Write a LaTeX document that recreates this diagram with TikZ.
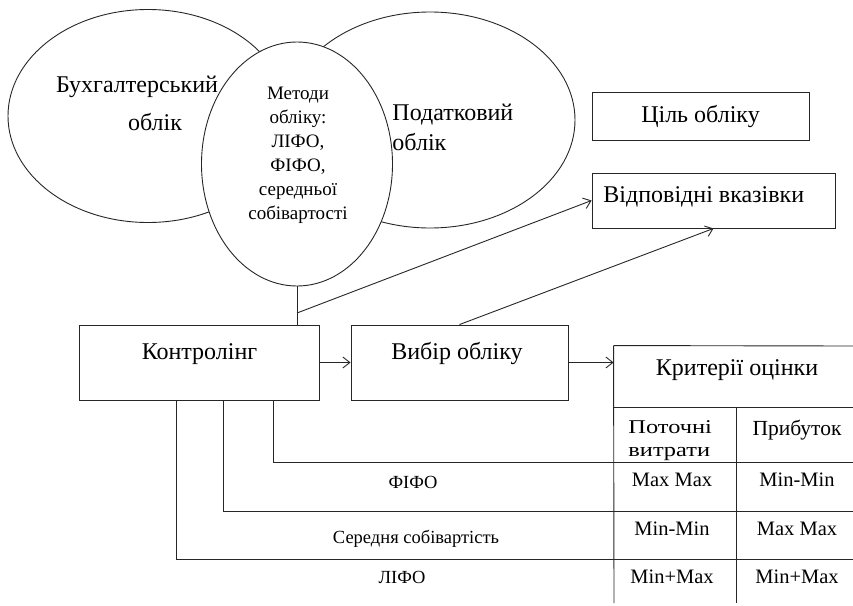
\documentclass[tikz,border=0pt]{standalone}
\usepackage{fontspec}
\setmainfont{Liberation Serif}
\usetikzlibrary{shapes.geometric, arrows.meta, positioning}

\begin{document}
\begin{tikzpicture}[x=1pt, y=-1pt, >={Straight Barb[length=7pt, width=11pt]},
    line width=0.9pt, draw=black!85,
    every node/.style={inner sep=0pt},
    oval/.style={draw, ellipse},
    box/.style={draw, rectangle},
    big/.style={font=\fontsize{24}{28}\selectfont},
    mid/.style={font=\fontsize{19}{24}\selectfont},
    cell/.style={font=\fontsize{20.5}{24}\selectfont},
    wide/.style={font=\fontsize{19.5}{23}\selectfont\addfontfeatures{FakeStretch=1.25}},
    small/.style={font=\fontsize{18.5}{22}\selectfont}]

    \useasboundingbox (0,0) rectangle (853,605);

    % Ovals
    \node[oval, minimum width=280pt, minimum height=213pt] (buh) at (148,116) {};
    \node[oval, minimum width=290pt, minimum height=216pt] (pod) at (430,120) {};
    \node[oval, fill=white, minimum width=191pt, minimum height=244pt] (metody) at (297,164) {};

    % Oval texts
    \node[big, anchor=base] (buhA) at (137,92) {Бухгалтерський};
    \node[big, anchor=base] (buhB) at (155,130) {облік};
    \node[big, anchor=base west] (podA) at (392,120) {Податковий};
    \node[big, anchor=base west] (podB) at (392,150) {облік};
    \node[mid, align=center] (metodyTxt) at (298,155)
        {Методи\\обліку:\\ЛІФО,\\ФІФО,\\середньої\\собівартості};

    % Boxes
    \node[box, big, minimum width=217pt, minimum height=48pt] (cil) at (700.5,116) {Ціль обліку};
    \node[box, minimum width=243pt, minimum height=55pt] (vkaz) at (713.5,200.5) {};
    \node[big, anchor=base west] (vkazTxt) at (603,202) {Відповідні вказівки};
    \node[box, minimum width=240pt, minimum height=75pt] (kontr) at (199,362.5) {};
    \node[big, anchor=base] (kontrTxt) at (199.5,359) {Контролінг};
    \node[box, minimum width=217pt, minimum height=75pt] (vybir) at (459.5,362.5) {};
    \node[big, anchor=base] (vybirTxt) at (457,359) {Вибір обліку};

    % Table
    \node[minimum width=239pt, minimum height=61pt] (krit) at (733.5,376.5) {};
    \node[big, anchor=base] (kritTxt) at (737,375) {Критерії оцінки};
    \draw (krit.north west) -- (853,346);
    \draw (krit.north west) -- (614,603);
    \foreach \y/\n in {407/r0, 462/r1, 511/r2, 559/r3} {
        \coordinate (\n) at (614,\y);
        \draw (\n) -- (853,\y);
    }
    \draw (736,407) -- (736,603);

    \node[wide, anchor=base west] (potA) at (628,433) {Поточні};
    \node[wide, anchor=base west] (potB) at (628,456) {витрати};
    \node[cell, font=\fontsize{21.5}{24}\selectfont, anchor=base] (prib) at (797,435) {Прибуток};
    \node[cell, anchor=base] (c11) at (672,486) {Max Max};
    \node[cell, anchor=base] (c12) at (797,486) {Min-Min};
    \node[cell, anchor=base] (c21) at (672,535) {Min-Min};
    \node[cell, anchor=base] (c22) at (797,535) {Max Max};
    \node[cell, anchor=base] (c31) at (672,583) {Min+Max};
    \node[cell, anchor=base] (c32) at (797,583) {Min+Max};

    % Connectors
    \coordinate (kink) at (297,313);
    \draw (metody.south) -- (metody.south |- kontr.north);
    \draw[->] (kink) -- (vkaz.west);
    \draw[->] (vybir.north) -- (vkaz.south);
    \draw[->] (kontr.east) -- (vybir.west);
    \draw[->] (vybir.east) -- (vybir.east -| krit.west);

    % Methods from Kontroling
    \draw ([xshift=74pt]kontr.south) |- (r1);
    \draw ([xshift=24pt]kontr.south) |- (r2);
    \draw ([xshift=-23pt]kontr.south) |- (r3);
    \node[small, anchor=base] (fifo) at (413,488) {ФІФО};
    \node[small, anchor=base] (ser) at (416,543) {Середня собівартість};
    \node[small, anchor=base] (lifo) at (402,583) {ЛІФО};

\end{tikzpicture}
\end{document}
